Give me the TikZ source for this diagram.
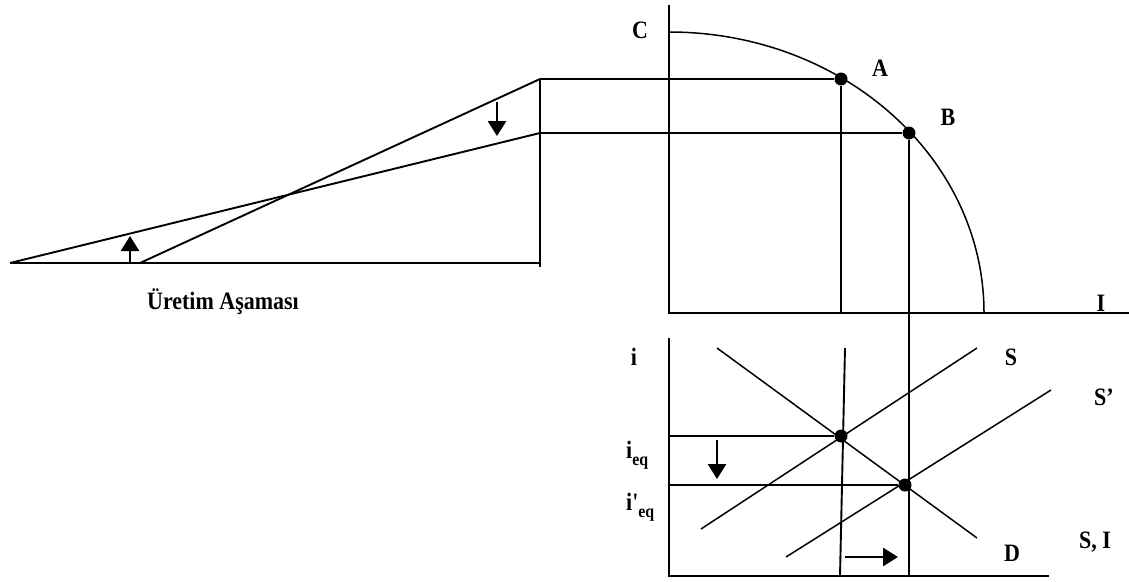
\documentclass[tikz,border=0pt]{standalone}
\usepackage{graphicx}
\usepackage{fontspec}
\setmainfont{Liberation Serif}
\usetikzlibrary{arrows.meta}
\newcommand\sqz[1]{\scalebox{0.88}[1]{#1}}
\begin{document}
\begin{tikzpicture}[x=1pt,y=-1pt,
  ln/.style={line width=1.9pt},
  thin/.style={line width=1.5pt},
  bigarrow/.style={line width=2.8pt,-{Triangle[width=18pt,length=15pt]}},
  lab/.style={font=\fontsize{25}{28}\selectfont\bfseries, inner sep=0pt},
  dot/.style={circle,fill=black,inner sep=0pt,minimum size=13pt}]
\useasboundingbox (0,0) rectangle (1129,581);
% ---- left diagram
\coordinate (L0) at (10,263);
\coordinate (L1) at (140,263);
\coordinate (LB) at (540,263);
\coordinate (LT) at (540,79);
\coordinate (LM) at (540,133);
\coordinate (LV) at (540,267);
\draw[ln] (L0) -- (LB);
\draw[ln] (LT) -- (LV);
\draw[ln] (L1) -- (LT);
\draw[ln] (L0) -- (LM);
\coordinate (ua0) at (130,264);
\coordinate (ua1) at (130,236);
\draw[bigarrow] (ua0) -- (ua1);
\coordinate (da0) at (497,102);
\coordinate (da1) at (497,136);
\draw[bigarrow] (da0) -- (da1);
\node[lab] (title) at (223,302) {\sqz{Üretim Aşaması}};
% ---- top right diagram
\coordinate (Ctop) at (669,5);
\coordinate (O1) at (669,313);
\coordinate (Iend) at (1129,313);
\coordinate (C0) at (669,32);
\draw[ln] (Ctop) -- (O1) -- (Iend);
\draw[thin] (C0) arc[start angle=-90,end angle=0,x radius=315,y radius=281];
\node[dot] (A) at (841,79) {};
\node[dot] (B) at (909,133) {};
\draw[thin] (LT) -- (A);
\draw[ln] (669,79) -- (700,79);
\draw[thin] (LM) -- (B);
\coordinate (Abot) at (841,313);
\coordinate (Bbot) at (909,577);
\draw[ln] (A) -- (Abot);
\draw[ln] (B) -- (Bbot);
\node[lab] (Cl) at (640,30) {\sqz{C}};
\node[lab] (Al) at (880,68) {\sqz{A}};
\node[lab] (Bl) at (948,117) {\sqz{B}};
\node[lab] (Il) at (1101,303) {\sqz{I}};
% ---- bottom right diagram
\coordinate (Itop) at (669,338);
\coordinate (O2) at (669,576);
\coordinate (SIend) at (1049,576);
\draw[ln] (Itop) -- (O2) -- (SIend);
\coordinate (D0) at (717,348);
\coordinate (D1) at (977,538);
\coordinate (S0) at (701,529);
\coordinate (S1) at (977,348);
\coordinate (Sp0) at (786,557);
\coordinate (Sp1) at (1051,390);
\coordinate (V0) at (845,348);
\coordinate (V1) at (840,576);
\draw[thin] (D0) -- (D1);
\draw[thin] (S0) -- (S1);
\draw[thin] (Sp0) -- (Sp1);
\draw[ln] (V0) -- (V1);
\node[dot] (E1) at (841,436) {};
\node[dot] (E2) at (905,485) {};
\coordinate (ieq) at (669,436);
\coordinate (ipeq) at (669,485);
\draw[thin] (ieq) -- (E1);
\draw[thin] (ipeq) -- (E2);
\coordinate (dd0) at (717,440);
\coordinate (dd1) at (717,479);
\draw[bigarrow] (dd0) -- (dd1);
\coordinate (rr0) at (845,557);
\coordinate (rr1) at (898,557);
\draw[bigarrow] (rr0) -- (rr1);
\node[lab] (il) at (634,357) {\sqz{i}};
\node[lab,anchor=west] (ieql) at (626,455) {\sqz{i\raisebox{-0.3em}{\fontsize{18}{18}\selectfont eq}}};
\node[lab,anchor=west] (ipeql) at (626,507) {\sqz{i\textquotesingle\raisebox{-0.3em}{\fontsize{18}{18}\selectfont eq}}};
\node[lab] (Sl) at (1011,357) {\sqz{S}};
\node[lab] (Spl) at (1104,397) {\sqz{S’}};
\node[lab] (Dl) at (1012,553) {\sqz{D}};
\node[lab] (SIl) at (1095,542) {\sqz{S, I}};
\end{tikzpicture}
\end{document}
